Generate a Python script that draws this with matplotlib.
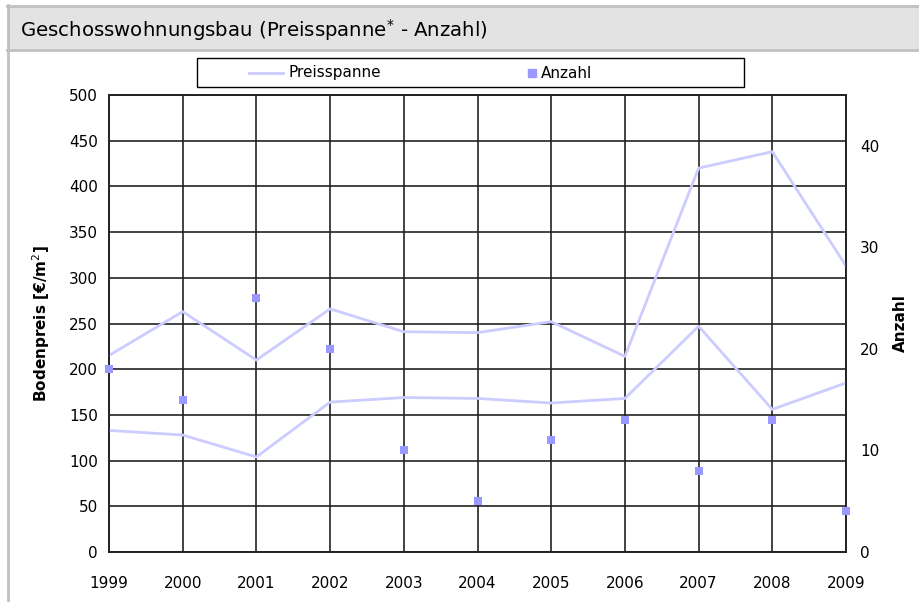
import numpy as np
import matplotlib
matplotlib.use("Agg")
import matplotlib.pyplot as plt
from matplotlib.lines import Line2D
from matplotlib.patches import Rectangle

# --------------------------------------------------
# Data
# --------------------------------------------------
years = [1999, 2000, 2001, 2002, 2003, 2004, 2005, 2006, 2007, 2008, 2009]
price_high = [215, 263, 210, 266, 241, 240, 252, 214, 420, 438, 313]
price_low = [133, 128, 104, 164, 169, 168, 163, 168, 247, 156, 185]
anzahl = [18, 15, 25, 20, 10, 5, 11, 13, 8, 13, 4]

line_col = "#ccccff"
marker_col = "#9999ff"
grid_col = "#222222"

plt.rcParams["font.family"] = ["DejaVu Sans"]

fig = plt.figure(figsize=(9.2, 6.02), dpi=100)
W, H = 920, 602

# --------------------------------------------------
# Title band and frame
# --------------------------------------------------
fig.patches.append(Rectangle((8 / W, 1 - 49 / H), 1, 42 / H,
                             transform=fig.transFigure, facecolor="#e3e3e3",
                             edgecolor="none", zorder=0))
fig.lines.append(Line2D([7 / W, 1], [1 - 5.5 / H] * 2, transform=fig.transFigure,
                        color="#c0c0c0", lw=2))
fig.lines.append(Line2D([7 / W, 1], [1 - 49.5 / H] * 2, transform=fig.transFigure,
                        color="#c0c0c0", lw=2))
fig.lines.append(Line2D([8 / W] * 2, [0, 1 - 5 / H], transform=fig.transFigure,
                        color="#c0c0c0", lw=2))
fig.text(20 / W, 1 - 30 / H, "Geschosswohnungsbau (Preisspanne$^{*}$ - Anzahl)",
         fontsize=14.2, va="center", ha="left")

# --------------------------------------------------
# Main axes
# --------------------------------------------------
ax = fig.add_axes([109 / W, 1 - 552 / H, (846 - 109) / W, (552 - 95) / H])
ax.plot(years, price_high, color=line_col, lw=2, zorder=3)
ax.plot(years, price_low, color=line_col, lw=2, zorder=3)
ax.set_xlim(1999, 2009)
ax.set_ylim(0, 500)
ax.set_xticks(years)
ax.set_yticks(np.arange(0, 501, 50))
ax.grid(True, color=grid_col, lw=1.2)
ax.tick_params(length=0, labelsize=11, pad=8)
ax.tick_params(axis="x", pad=17)
for s in ax.spines.values():
    s.set_color(grid_col)
    s.set_linewidth(1.2)
ax.set_ylabel("Bodenpreis [€/m$^2$]", fontsize=11, fontweight="bold", labelpad=12)

ax2 = ax.twinx()
ax2.scatter(years, anzahl, marker="s", s=40, color=marker_col, zorder=4,
            clip_on=False, linewidths=0)
ax2.set_ylim(0, 45)
ax2.set_yticks([0, 10, 20, 30, 40])
ax2.tick_params(length=0, labelsize=11, pad=10)
for s in ax2.spines.values():
    s.set_color(grid_col)
    s.set_linewidth(1.2)
ax2.set_ylabel("Anzahl", fontsize=11, fontweight="bold", labelpad=10)

# --------------------------------------------------
# Legend (frame + two entries)
# --------------------------------------------------
fig.patches.append(Rectangle((197 / W, 1 - 87 / H), (744 - 197) / W, 29 / H,
                             transform=fig.transFigure, facecolor="white",
                             edgecolor="black", lw=1.0, zorder=5))
leg_y = 1 - 73 / H
fig.lines.append(Line2D([249 / W, 283 / W], [leg_y, leg_y], transform=fig.transFigure,
                        color=line_col, lw=2, zorder=6))
fig.text(288 / W, leg_y, "Preisspanne", fontsize=11, va="center", ha="left", zorder=6)
fig.lines.append(Line2D([532 / W], [leg_y], transform=fig.transFigure, marker="s",
                        markersize=6, color=marker_col, ls="none", zorder=6))
fig.text(541 / W, leg_y, "Anzahl", fontsize=11, va="center", ha="left", zorder=6)

fig.savefig("out.png", dpi=100)
